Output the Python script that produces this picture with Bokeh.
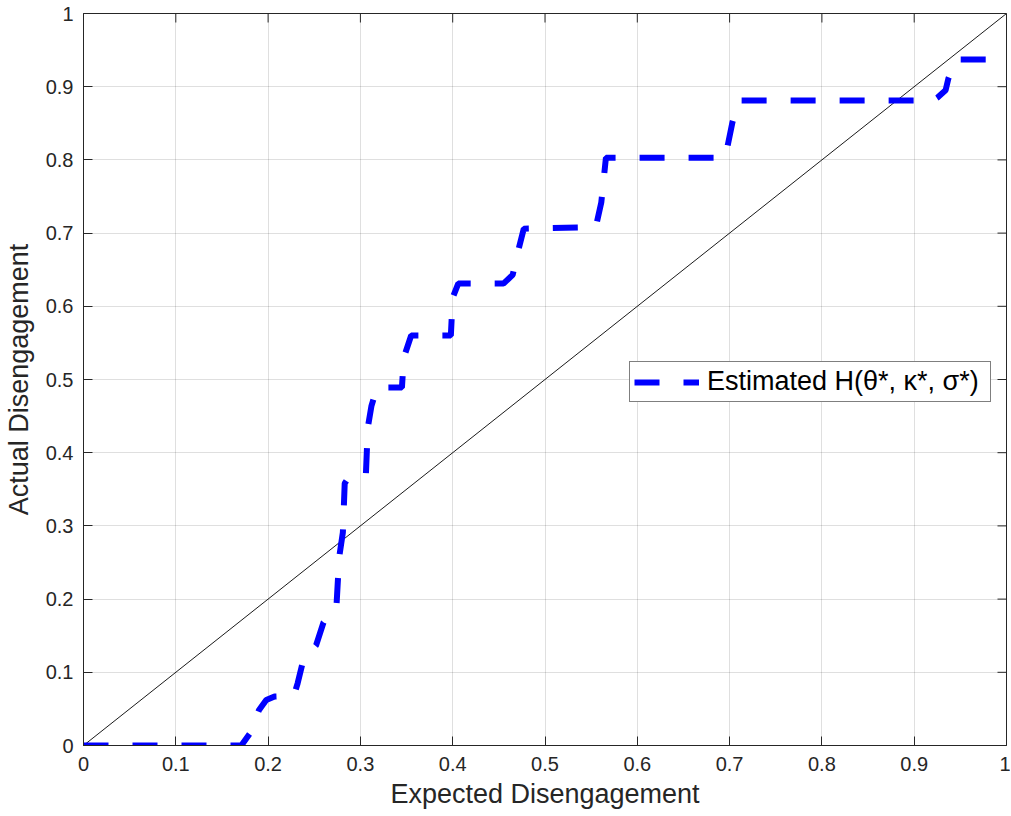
from bokeh.plotting import figure
from bokeh.models import Range1d, FixedTicker, CustomJSTickFormatter, Legend, LegendItem
from bokeh.embed import file_html
from bokeh.resources import INLINE

# ---- data ----
est_x = [0.0, 0.171, 0.180, 0.190, 0.198, 0.207, 0.228, 0.232, 0.238, 0.252, 0.260,
         0.274, 0.277, 0.281, 0.283, 0.290, 0.306, 0.308, 0.312, 0.318, 0.345, 0.347,
         0.355, 0.398, 0.400, 0.406, 0.455, 0.465, 0.471, 0.477, 0.555, 0.561, 0.566,
         0.695, 0.698, 0.703, 0.710, 0.920, 0.925, 0.934, 0.937, 0.945, 1.0]
est_y = [0.0, 0.0, 0.016, 0.048, 0.062, 0.067, 0.068, 0.085, 0.116, 0.137, 0.168,
         0.189, 0.257, 0.291, 0.358, 0.372, 0.372, 0.434, 0.464, 0.489, 0.489, 0.530,
         0.560, 0.560, 0.612, 0.631, 0.631, 0.643, 0.676, 0.706, 0.708, 0.742, 0.803,
         0.803, 0.820, 0.851, 0.881, 0.881, 0.885, 0.895, 0.911, 0.937, 0.937]
ref_x = [0.0, 1.0]
ref_y = [0.0, 1.0]
tick_values = [0.0, 0.1, 0.2, 0.3, 0.4, 0.5, 0.6, 0.7, 0.8, 0.9, 1.0]
legend_label = "Estimated H(θ*, κ*, σ*)"
x_label = "Expected Disengagement"
y_label = "Actual Disengagement"

FONT = "Liberation Sans"
TXT = "#262626"
W, H = 1010, 815
BL, BR, BT, BB = 82, 4, 13, 70
FW, FH = W - BL - BR, H - BT - BB
TICK = 9

p = figure(width=W, height=H, output_backend="svg", toolbar_location=None,
           x_range=Range1d(0, 1), y_range=Range1d(0, 1),
           min_border_left=BL, min_border_right=BR, min_border_top=BT, min_border_bottom=BB,
           background_fill_color="white", border_fill_color="white")
p.outline_line_color = TXT
p.outline_line_width = 1

fmt = CustomJSTickFormatter(code="return (Math.round(tick*10)/10).toString();")
ticker = FixedTicker(ticks=tick_values)

for ax in (p.xaxis[0], p.yaxis[0]):
    ax.ticker = ticker
    ax.formatter = fmt
    ax.major_tick_in = TICK
    ax.major_tick_out = 0
    ax.minor_tick_line_color = None
    ax.axis_line_color = TXT
    ax.major_tick_line_color = TXT
    ax.major_label_text_font = FONT
    ax.major_label_text_font_size = "20px"
    ax.major_label_text_color = TXT
    ax.axis_label_text_font = FONT
    ax.axis_label_text_font_size = "27px"
    ax.axis_label_text_font_style = "normal"
    ax.axis_label_text_color = TXT
p.xaxis[0].axis_label = x_label
p.yaxis[0].axis_label = y_label
p.xaxis[0].major_label_standoff = 11
p.xaxis[0].axis_label_standoff = 5
p.yaxis[0].major_label_standoff = 10
p.yaxis[0].axis_label_standoff = 9

p.xgrid.ticker = ticker
p.ygrid.ticker = ticker
p.grid.grid_line_color = "#262626"
p.grid.grid_line_alpha = 0.15
p.grid.grid_line_width = 1

# tick marks on the top and right edges of the box (mirroring the axis ticks)
n = len(tick_values)
p.segment(x0=tick_values, y0=[1.0] * n, x1=tick_values, y1=[1.0 - TICK / FH] * n,
          line_color=TXT, line_width=1)
p.segment(x0=[1.0] * n, y0=tick_values, x1=[1.0 - TICK / FW] * n, y1=tick_values,
          line_color=TXT, line_width=1)

p.line(ref_x, ref_y, line_color="#1a1a1a", line_width=1)
r = p.line(est_x, est_y, line_color="#0000ff", line_width=6, line_dash="25 24")

legend = Legend(items=[LegendItem(label=legend_label, renderers=[r])],
                location=(546, 343), margin=0, padding=4, spacing=0,
                glyph_width=65, glyph_height=24, label_standoff=8, label_width=279,
                label_text_font=FONT, label_text_font_size="27px",
                label_text_color="#000000",
                border_line_color="#000000", border_line_width=1,
                background_fill_color="white", background_fill_alpha=1)
p.add_layout(legend, "center")

open("out.html", "w").write(file_html(p, INLINE))
